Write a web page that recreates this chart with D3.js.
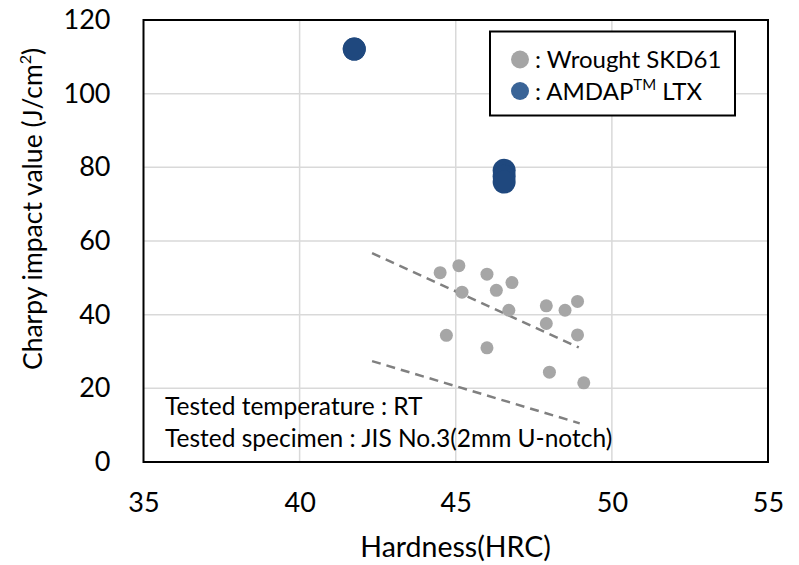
<!DOCTYPE html>
<html>
<head>
<meta charset="utf-8">
<script src="https://cdn.jsdelivr.net/npm/d3@7/dist/d3.min.js"></script>
<style>
  body { margin: 0; background: #fff; }
  svg { font-family: Lato, "Noto Sans", sans-serif; }
</style>
</head>
<body>
<div class="parent"></div>
<script>
// Wrought SKD61 (hardness HRC, charpy J/cm2)
const wroughtHardness = [44.5, 45.1, 46.0, 45.2, 46.3, 46.8, 46.7, 47.9, 48.5, 48.9, 47.9, 48.9, 44.7, 46.0, 48.0, 49.1];
const wroughtCharpy   = [51.4, 53.3, 51.0, 46.1, 46.6, 48.7, 41.2, 42.4, 41.2, 43.6, 37.6, 34.5, 34.4, 31.0, 24.4, 21.5];
// AMDAP LTX
const amdapHardness = [41.75, 41.75, 46.55, 46.55, 46.55];
const amdapCharpy   = [112.1, 112.1, 79.2, 77.6, 76.0];
// dashed band lines [x0, y0, x1, y1]
const bandUpper = [42.32, 56.7, 48.94, 31.1];
const bandLower = [42.32, 27.4, 48.97, 10.5];
const xTicks = [35, 40, 45, 50, 55];
const yTicks = [0, 20, 40, 60, 80, 100, 120];

const width = 799, height = 565;
const margin = { top: 20, right: 31, bottom: 103, left: 143.5 };
const innerW = width - margin.left - margin.right;
const innerH = height - margin.top - margin.bottom;

const svg = d3.select(".parent").append("svg")
  .attr("width", width).attr("height", height);
const g = svg.append("g").attr("transform", `translate(${margin.left},${margin.top})`);

const x = d3.scaleLinear().domain([35, 55]).range([0, innerW]);
const y = d3.scaleLinear().domain([0, 120]).range([innerH, 0]);

// grid
g.selectAll(".vgrid").data(xTicks.slice(1, -1)).join("line")
  .attr("x1", d => x(d)).attr("x2", d => x(d))
  .attr("y1", 0).attr("y2", innerH)
  .attr("stroke", "#d9d9d9").attr("stroke-width", 1.5);
g.selectAll(".hgrid").data(yTicks.slice(1, -1)).join("line")
  .attr("x1", 0).attr("x2", innerW)
  .attr("y1", d => y(d)).attr("y2", d => y(d))
  .attr("stroke", "#d9d9d9").attr("stroke-width", 1.5);

// axes (labels only)
const xAxis = g.append("g").attr("transform", `translate(0,${innerH})`)
  .call(d3.axisBottom(x).tickValues(xTicks).tickSize(0).tickPadding(31));
const yAxis = g.append("g")
  .call(d3.axisLeft(y).tickValues(yTicks).tickSize(0).tickPadding(33));
[xAxis, yAxis].forEach(a => {
  a.select(".domain").remove();
  a.selectAll("text").attr("font-family", "Lato").attr("font-size", 27).attr("fill", "#000");
});

// dashed lines
[bandUpper, bandLower].forEach(b => {
  g.append("line")
    .attr("x1", x(b[0])).attr("y1", y(b[1]))
    .attr("x2", x(b[2])).attr("y2", y(b[3]))
    .attr("stroke", "#808080").attr("stroke-width", 2.5)
    .attr("stroke-dasharray", "9,6");
});

// points
g.selectAll(".wr").data(wroughtHardness).join("circle")
  .attr("cx", d => x(d)).attr("cy", (d, i) => y(wroughtCharpy[i]))
  .attr("r", 6.5).attr("fill", "#a6a6a6");
g.selectAll(".am").data(amdapHardness).join("circle")
  .attr("cx", d => x(d)).attr("cy", (d, i) => y(amdapCharpy[i]))
  .attr("r", 11.5).attr("fill", "#1f487e");

// border
g.append("rect").attr("width", innerW).attr("height", innerH)
  .attr("fill", "none").attr("stroke", "#000").attr("stroke-width", 2);

// annotation
const note = g.append("g").attr("font-size", 24.5).attr("fill", "#000");
note.append("text").attr("x", 165 - margin.left).attr("y", 415 - margin.top).text("Tested temperature : RT");
note.append("text").attr("x", 165 - margin.left).attr("y", 447 - margin.top).text("Tested specimen : JIS No.3(2mm U-notch)");

// legend
const lg = svg.append("g").attr("transform", "translate(490,31.5)");
lg.append("rect").attr("width", 245).attr("height", 84)
  .attr("fill", "#fff").attr("stroke", "#000").attr("stroke-width", 2);
const legendItems = [
  { color: "#a5a5a5", label: ": Wrought SKD61" },
  { color: "#3a6497", label: ": AMDAP", sup: "TM", tail: " LTX" }
];
legendItems.forEach((d, i) => {
  const cy = 28 + i * 31.5;
  lg.append("circle").attr("cx", 30).attr("cy", cy).attr("r", 9).attr("fill", d.color);
  const t = lg.append("text").attr("x", 45).attr("y", cy + 8.5).attr("font-size", 24);
  t.append("tspan").text(d.label);
  if (d.sup) {
    t.append("tspan").attr("font-size", 15).attr("dy", -10).text(d.sup);
    t.append("tspan").attr("dy", 10).text(d.tail);
  }
});

// axis titles
svg.append("text").attr("x", 455.6).attr("y", 557).attr("text-anchor", "middle")
  .attr("font-size", 28.5).text("Hardness(HRC)");
const yt = svg.append("text").attr("transform", "translate(42,209) rotate(-90)")
  .attr("text-anchor", "middle").attr("font-size", 26.5);
yt.append("tspan").text("Charpy impact value (J/cm");
yt.append("tspan").attr("font-size", 16).attr("dy", -11).text("2");
yt.append("tspan").attr("dy", 11).text(")");
</script>
</body>
</html>
